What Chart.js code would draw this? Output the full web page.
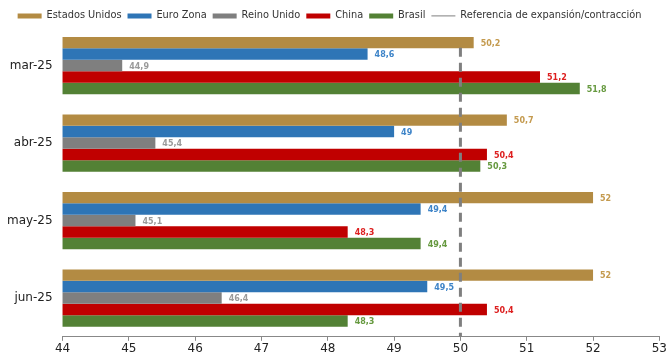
<!DOCTYPE html>
<html>
<head>
<meta charset="utf-8">
<script src="https://cdn.jsdelivr.net/npm/chart.js@4/dist/chart.umd.min.js"></script>
<style>
	html, body { margin: 0; padding: 0; background: #fff; }
	#wrap { width: 668px; height: 356px; }
</style>
</head>
<body>
<div id="wrap"><canvas id="myChart"></canvas></div>
<script>
// datos (PMI manufacturero)
const categorias = ['mar-25', 'abr-25', 'may-25', 'jun-25'];
const estadosUnidos = [50.2, 50.7, 52, 52];
const euroZona = [48.6, 49, 49.4, 49.5];
const reinoUnido = [44.9, 45.4, 45.1, 46.4];
const china = [51.2, 50.4, 48.3, 50.4];
const brasil = [51.8, 50.3, 49.4, 48.3];
const referencia = 50;
const ejeMin = 44;
const ejeMax = 53;

const series = [
	{ label: 'Estados Unidos', data: estadosUnidos, color: '#B38B43', texto: '#C49A4E' },
	{ label: 'Euro Zona', data: euroZona, color: '#2E75B6', texto: '#3E84C8' },
	{ label: 'Reino Unido', data: reinoUnido, color: '#7F7F7F', texto: '#9A9A9A' },
	{ label: 'China', data: china, color: '#C00000', texto: '#DD1F1F' },
	{ label: 'Brasil', data: brasil, color: '#538135', texto: '#66993F' }
];
const refLabel = 'Referencia de expansión/contracción';
const refColor = '#7F7F7F';

const ctx = document.getElementById('myChart');
const fuente = 'DejaVu Sans';

// linea punteada de referencia, etiquetas de valor y leyenda desplazada
const extras = {
	id: 'extras',
	afterLayout(chart) {
		chart.legend.top += 4;
		chart.legend.bottom += 4;
		chart.legend.left -= 7;
		chart.legend.right -= 7;
	},
	afterDatasetsDraw(chart) {
		const c = chart.ctx;
		const area = chart.chartArea;
		const x = chart.scales.x.getPixelForValue(referencia);
		c.save();
		c.strokeStyle = refColor;
		c.lineWidth = 3;
		c.setLineDash([9, 6]);
		c.beginPath();
		c.moveTo(x, area.top + 21);
		c.lineTo(x, area.bottom);
		c.stroke();
		c.restore();

		c.save();
		c.font = 'bold 8px "' + fuente + '"';
		c.textBaseline = 'middle';
		c.textAlign = 'left';
		series.forEach((s, i) => {
			const meta = chart.getDatasetMeta(i);
			meta.data.forEach((bar, j) => {
				c.fillStyle = s.texto;
				const txt = String(s.data[j]).replace('.', ',');
				c.fillText(txt, bar.x + 7, bar.y + 1);
			});
		});
		c.restore();
	}
};

new Chart(ctx, {
	type: 'bar',
	data: {
		labels: categorias,
		datasets: series.map(s => ({
			label: s.label,
			data: s.data,
			backgroundColor: s.color,
			borderWidth: 0,
			categoryPercentage: 0.74,
			barPercentage: 1
		}))
	},
	options: {
		indexAxis: 'y',
		responsive: true,
		maintainAspectRatio: false,
		animation: false,
		layout: { padding: { left: 5, right: 0, top: 1, bottom: 0 } },
		plugins: {
			tooltip: { enabled: false },
			legend: {
				position: 'top',
				labels: {
					font: { family: fuente, size: 9.8 },
					color: '#333',
					usePointStyle: true,
					pointStyleWidth: 24,
					boxHeight: 5,
					padding: 6,
					generateLabels(chart) {
						const items = series.map((s, i) => ({
							text: s.label,
							fillStyle: s.color,
							strokeStyle: s.color,
							lineWidth: 0,
							pointStyle: 'rect',
							datasetIndex: i,
							fontColor: '#333'
						}));
						items.push({
							text: refLabel,
							fillStyle: refColor,
							strokeStyle: '#999',
							lineWidth: 1.2,
							pointStyle: 'line',
							fontColor: '#333'
						});
						return items;
					}
				}
			}
		},
		scales: {
			x: {
				min: ejeMin,
				max: ejeMax,
				ticks: {
					stepSize: 1,
					font: { family: fuente, size: 12, lineHeight: 1.1 },
					color: '#222',
					padding: 1
				},
				grid: { drawOnChartArea: false, drawTicks: true, tickLength: 4, color: '#888' },
				border: { color: '#888' }
			},
			y: {
				ticks: {
					font: { family: fuente, size: 12 },
					color: '#222',
					padding: 2
				},
				grid: { display: false },
				border: { display: false }
			}
		}
	},
	plugins: [extras]
});
</script>
</body>
</html>
